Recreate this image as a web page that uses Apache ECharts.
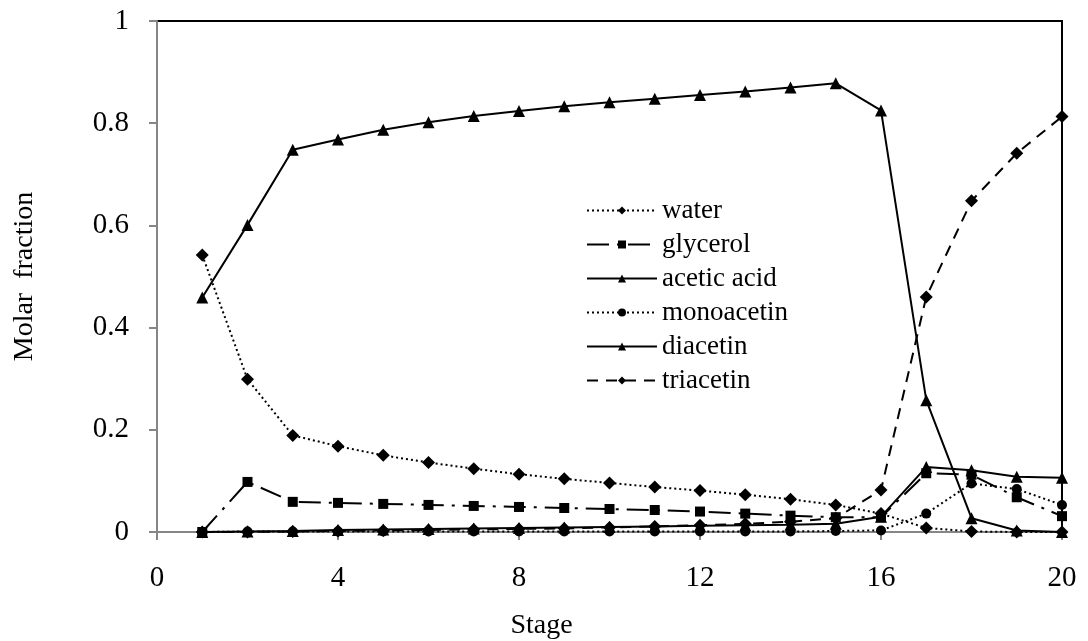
<!DOCTYPE html>
<html>
<head>
<meta charset="utf-8">
<script src="https://cdn.jsdelivr.net/npm/echarts@6/dist/echarts.min.js"></script>
<style>
html,body{margin:0;padding:0;background:#fff;}
#chart{width:1088px;height:641px;}
</style>
</head>
<body>
<div id="chart"></div>
<script>
var stages = [1,2,3,4,5,6,7,8,9,10,11,12,13,14,15,16,17,18,19,20];
var water = [0.542,0.299,0.189,0.168,0.150,0.136,0.124,0.113,0.104,0.096,0.088,0.081,0.073,0.064,0.053,0.036,0.008,0.001,0.000,0.000];
var glycerol = [0.000,0.098,0.059,0.057,0.055,0.053,0.051,0.049,0.047,0.045,0.043,0.040,0.036,0.032,0.029,0.029,0.115,0.112,0.068,0.031];
var aceticAcid = [0.459,0.601,0.748,0.768,0.787,0.802,0.814,0.824,0.833,0.841,0.848,0.855,0.862,0.870,0.878,0.825,0.258,0.027,0.003,0.000];
var monoacetin = [0.000,0.001,0.001,0.001,0.001,0.001,0.001,0.001,0.001,0.001,0.001,0.001,0.001,0.001,0.002,0.003,0.036,0.095,0.084,0.053];
var diacetin = [0.000,0.001,0.002,0.004,0.005,0.006,0.007,0.008,0.009,0.010,0.011,0.012,0.013,0.014,0.016,0.030,0.127,0.121,0.108,0.106];
var triacetin = [0.000,0.000,0.001,0.002,0.003,0.004,0.005,0.006,0.007,0.009,0.011,0.013,0.016,0.020,0.027,0.082,0.460,0.648,0.741,0.813];
var seriesNames = ['water','glycerol','acetic acid','monoacetin','diacetin','triacetin'];

var FONT = "'Times New Roman', 'Liberation Serif', serif";
function pairs(arr){ return stages.map(function(s,i){ return [s, arr[i]]; }); }
function mk(name, arr, symbol, size, dash){
  return {
    name: name, type: 'line', data: pairs(arr),
    symbol: symbol, symbolSize: size,
    itemStyle: {color: '#000'},
    lineStyle: {color: '#000', width: 2, type: dash, cap: 'butt'},
    animation: false
  };
}
var chart = echarts.init(document.getElementById('chart'), null, {renderer: 'canvas'});
chart.setOption({
  backgroundColor: '#fff',
  animation: false,
  grid: {left: 157, right: 26, top: 21, bottom: 109, outerBoundsMode: 'none', containLabel: false,
    show: true, borderColor: '#000', borderWidth: 2, backgroundColor: 'transparent'},
  legend: {
    orient: 'vertical', left: 581, top: 192, itemGap: 7,
    itemWidth: 70, itemHeight: 10,
    data: seriesNames,
    textStyle: {fontFamily: FONT, fontSize: 27, color: '#000'}
  },
  xAxis: {
    type: 'value', min: 0, max: 20, interval: 4,
    name: 'Stage', nameLocation: 'middle', nameGap: 80,
    nameTextStyle: {fontFamily: FONT, fontSize: 28, color: '#000', padding: [0, 136, 0, 0]},
    axisLine: {show: true, onZero: false, lineStyle: {color: '#868686', width: 2}},
    axisTick: {show: true, inside: false, length: 8, lineStyle: {color: '#868686', width: 2}},
    axisLabel: {fontFamily: FONT, fontSize: 29, color: '#000', margin: 32},
    splitLine: {show: false}
  },
  yAxis: {
    type: 'value', min: 0, max: 1, interval: 0.2,
    name: 'Molar  fraction', nameLocation: 'middle', nameGap: 118,
    nameTextStyle: {fontFamily: FONT, fontSize: 28, color: '#000'},
    axisLine: {show: true, lineStyle: {color: '#868686', width: 2}},
    axisTick: {show: true, inside: false, length: 8, lineStyle: {color: '#868686', width: 2}},
    axisLabel: {fontFamily: FONT, fontSize: 29, color: '#000', margin: 28,
      formatter: function(v){ return String(Math.round(v*10)/10); }},
    splitLine: {show: false}
  },
  series: [
    mk(seriesNames[0], water, 'diamond', 13, [2,3]),
    mk(seriesNames[1], glycerol, 'rect', 10, [22,8,3,8]),
    mk(seriesNames[2], aceticAcid, 'triangle', 12, 'solid'),
    mk(seriesNames[3], monoacetin, 'circle', 10, [2,3]),
    mk(seriesNames[4], diacetin, 'triangle', 12, 'solid'),
    mk(seriesNames[5], triacetin, 'diamond', 13, [11,8])
  ]
});
</script>
</body>
</html>
